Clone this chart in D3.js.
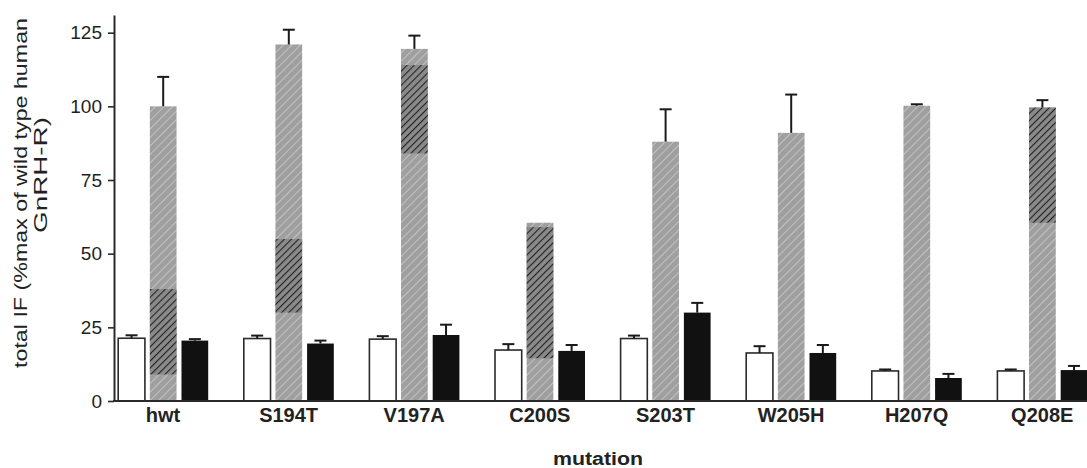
<!DOCTYPE html>
<html>
<head>
<meta charset="utf-8">
<script src="https://cdn.jsdelivr.net/npm/d3@7"></script>
<style>
  html, body { margin: 0; padding: 0; background: #fff; }
  svg { display: block; font-family: "Liberation Sans", Arial, sans-serif; }
</style>
</head>
<body>
<svg id="chart" width="1087" height="468"></svg>
<script>
// ---- data ----
const categories = ["hwt", "S194T", "V197A", "C200S", "S203T", "W205H", "H207Q", "Q208E"];
const series = ["basal", "stimulated", "blocked"];
const basalValues = [21.3, 21.2, 21.0, 17.3, 21.2, 16.3, 10.2, 10.2];
const basalErrors = [1.0, 1.0, 1.0, 2.0, 1.0, 2.3, 0.5, 0.5];
const stimValues  = [100, 121, 119.5, 60.5, 88, 91, 100.2, 99.6];
const stimErrors  = [10, 5, 4.5, 0, 11, 13, 0.5, 2.5];
const blockValues = [20.5, 19.5, 22.4, 17, 30, 16.3, 7.8, 10.5];
const blockErrors = [0.5, 1.0, 3.5, 2.0, 3.3, 2.7, 1.4, 1.4];
// darker hatched segment inside the stimulated bar (low, high), null if none
const darkLow  = [9, 30, 84, 14.5, null, null, null, 60.5];
const darkHigh = [38, 55, 114, 59, null, null, null, 99.6];
const yTicks = [0, 25, 50, 75, 100, 125];
const yLabelLines = ["total IF (%max of wild type human", "GnRH-R)"];
const xTitle = "mutation";

const svg = d3.select("#chart");

// patterns
const defs = svg.append("defs");
const pLight = defs.append("pattern").attr("id", "hLight").attr("patternUnits", "userSpaceOnUse")
  .attr("width", 6).attr("height", 6).attr("patternTransform", "rotate(45)");
pLight.append("rect").attr("width", 6).attr("height", 6).attr("fill", "#9f9f9f");
pLight.append("line").attr("x1", 0).attr("y1", 0).attr("x2", 0).attr("y2", 6)
  .attr("stroke", "#c2c2c2").attr("stroke-width", 2);
const pDark = defs.append("pattern").attr("id", "hDark").attr("patternUnits", "userSpaceOnUse")
  .attr("width", 5).attr("height", 5).attr("patternTransform", "rotate(45)");
pDark.append("rect").attr("width", 5).attr("height", 5).attr("fill", "#8a8a8a");
pDark.append("line").attr("x1", 0).attr("y1", 0).attr("x2", 0).attr("y2", 5)
  .attr("stroke", "#222").attr("stroke-width", 2.2);

// scales
const y = d3.scaleLinear().domain([0, 131]).range([401, 15]);
const x0 = d3.scaleBand().domain(categories).range([100.2, 1105]).paddingInner(0).paddingOuter(0);
const x1 = d3.scaleBand().domain(series).range([18, 108]).paddingInner(0.156).paddingOuter(0);
const bw = x1.bandwidth();

const rows = categories.map((c, i) => ({
  cat: c,
  bars: [
    { s: "basal", v: basalValues[i], e: basalErrors[i] },
    { s: "stimulated", v: stimValues[i], e: stimErrors[i], lo: darkLow[i], hi: darkHigh[i] },
    { s: "blocked", v: blockValues[i], e: blockErrors[i] }
  ]
}));

const groups = svg.append("g").selectAll("g.grp").data(rows).join("g")
  .attr("class", "grp")
  .attr("transform", d => `translate(${x0(d.cat)},0)`);

const bars = groups.selectAll("g.bar").data(d => d.bars).join("g").attr("class", "bar");

bars.append("rect")
  .attr("x", d => x1(d.s))
  .attr("y", d => y(d.v))
  .attr("width", bw)
  .attr("height", d => y(0) - y(d.v))
  .attr("fill", d => d.s === "basal" ? "#ffffff" : d.s === "blocked" ? "#111111" : "url(#hLight)")
  .attr("stroke", d => d.s === "basal" ? "#2a2a2a" : "none")
  .attr("stroke-width", 1.6);

bars.filter(d => d.s === "stimulated" && d.lo != null)
  .append("rect")
  .attr("x", d => x1(d.s))
  .attr("y", d => y(d.hi))
  .attr("width", bw)
  .attr("height", d => y(d.lo) - y(d.hi))
  .attr("fill", "url(#hDark)");

// error bar stems and caps
const eb = bars.filter(d => d.e > 0);
eb.append("line")
  .attr("x1", d => x1(d.s) + bw / 2).attr("x2", d => x1(d.s) + bw / 2)
  .attr("y1", d => y(d.v)).attr("y2", d => y(d.v + d.e))
  .attr("stroke", "#1a1a1a").attr("stroke-width", 2);
eb.append("line")
  .attr("x1", d => x1(d.s) + bw / 2 - 6).attr("x2", d => x1(d.s) + bw / 2 + 6)
  .attr("y1", d => y(d.v + d.e)).attr("y2", d => y(d.v + d.e))
  .attr("stroke", "#1a1a1a").attr("stroke-width", 2);

// y axis
const yAxis = svg.append("g").attr("transform", "translate(114,0)")
  .call(d3.axisLeft(y).tickValues(yTicks).tickSize(6).tickPadding(6).tickSizeOuter(0));
yAxis.select(".domain").attr("stroke", "#2a2a2a").attr("stroke-width", 2);
yAxis.selectAll(".tick line").attr("stroke", "#2a2a2a").attr("stroke-width", 1.6);
yAxis.selectAll(".tick text").attr("font-size", 19).attr("fill", "#1e1e1e")
  .attr("font-family", "'Liberation Sans', Arial, sans-serif");

// x axis
const xAxis = svg.append("g").attr("transform", `translate(0,${y(0)})`)
  .call(d3.axisBottom(x0).tickSize(0).tickPadding(7));
xAxis.select(".domain").remove();
xAxis.append("line").attr("x1", 113).attr("x2", 1087).attr("y1", 0).attr("y2", 0)
  .attr("stroke", "#2a2a2a").attr("stroke-width", 2);
xAxis.selectAll(".tick text").attr("font-size", 20).attr("font-weight", "bold").attr("fill", "#222")
  .attr("font-family", "'Liberation Sans', Arial, sans-serif");

// x title
svg.append("text").attr("x", 598).attr("y", 465).attr("text-anchor", "middle")
  .attr("font-size", 18).attr("font-weight", "bold").attr("fill", "#222")
  .attr("textLength", 90).attr("lengthAdjust", "spacingAndGlyphs")
  .text(xTitle);

// y title (two lines)
const yl = [
  { t: yLabelLines[0], x: 27, cy: 193, len: 350 },
  { t: yLabelLines[1], x: 47, cy: 175, len: 116 }
];
svg.selectAll("text.ylab").data(yl).join("text").attr("class", "ylab")
  .attr("transform", d => `translate(${d.x},${d.cy}) rotate(-90)`)
  .attr("text-anchor", "middle")
  .attr("font-size", 19).attr("fill", "#222")
  .attr("textLength", d => d.len).attr("lengthAdjust", "spacingAndGlyphs")
  .text(d => d.t);
</script>
</body>
</html>
